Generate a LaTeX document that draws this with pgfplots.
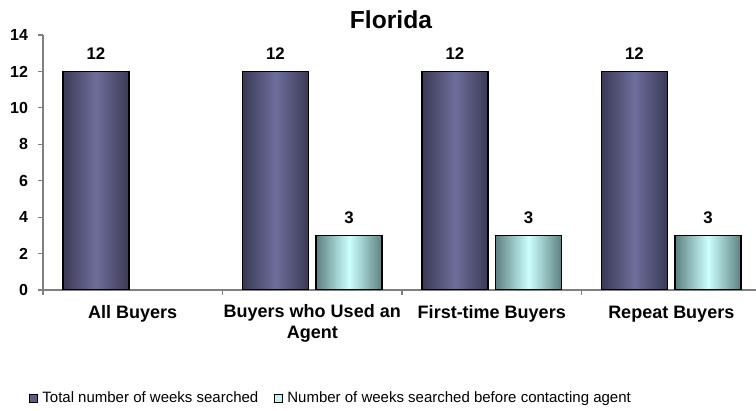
\documentclass[border=0pt]{standalone}
\usepackage{fontspec}
\setmainfont{Liberation Sans}
\usepackage{pgfplots}
\pgfplotsset{compat=1.18}

\definecolor{darkedge}{HTML}{3A3A55}
\definecolor{darkmid}{HTML}{6E6E9C}
\definecolor{cyanedge}{HTML}{5E8080}
\definecolor{cyanmid}{HTML}{CCFFFF}
\definecolor{axisgray}{HTML}{808080}

\pgfplotsset{
  barlabel/.style={nodes near coords, nodes near coords style={font=\fontsize{8.4}{10}\selectfont\bfseries, text=black, yshift=2pt}},
  darkbar/.style={ybar, bar width=33pt, bar shift=-18.4pt, draw=black, line width=0.8pt,
    left color=darkedge, right color=darkedge, middle color=darkmid, barlabel,
    nodes near coords style={xshift=-18.4pt}, forget plot},
  cyanbar/.style={ybar, bar width=33pt, bar shift=18.4pt, draw=black, line width=0.8pt,
    left color=cyanedge, right color=cyanedge, middle color=cyanmid, barlabel,
    nodes near coords style={xshift=18.4pt}, forget plot},
}

\begin{document}
\begin{tikzpicture}
\path[use as bounding box] (-21.5pt,-60.5pt) rectangle (356.5pt,145pt);
\begin{axis}[
    scale only axis,
    width=356.5pt, height=127.5pt,
    xmin=-0.5, xmax=3.472,
    ymin=0, ymax=14,
    ytick={0,2,...,14},
    xtick={0,1,2,3},
    xticklabels={All Buyers,{Buyers who Used an\\Agent},First-time Buyers,Repeat Buyers},
    minor xtick={-0.5,0.5,1.5,2.5,3.5},
    major x tick style={draw=none},
    axis x line=bottom, axis y line=left,
    axis line style={-, draw=axisgray, line width=0.6pt},
    tick style={draw=axisgray, line width=0.6pt},
    tick align=outside,
    major tick length=2.5pt, minor tick length=2.5pt,
    /pgf/number format/assume math mode=true,
    yticklabel style={font=\fontsize{8}{10}\selectfont\bfseries, xshift=-1.5pt},
    xticklabel style={font=\fontsize{9}{10.5}\selectfont\bfseries, align=center,
      execute at begin node={\strut}, yshift=-1pt},
    title={Florida},
    title style={font=\fontsize{12.3}{14}\selectfont\bfseries, at={(0.488,1)}, anchor=center, yshift=1.5pt},
    legend style={at={(0,0)}, anchor=west, xshift=-7pt, yshift=-54.5pt, draw=none, fill=none,
      inner sep=0pt, font=\fontsize{7.5}{9}\selectfont,
      /tikz/every even column/.append style={column sep=6pt}},
    legend columns=2,
    legend image code/.code={\draw[#1, draw=black, line width=0.5pt] (0pt,-2pt) rectangle (4pt,2pt);},
]
\addplot[darkbar] coordinates {(0,12)};
\addplot[darkbar] coordinates {(1,12)};
\addplot[darkbar] coordinates {(2,12)};
\addplot[darkbar] coordinates {(3,12)};
\addplot[cyanbar] coordinates {(1,3)};
\addplot[cyanbar] coordinates {(2,3)};
\addplot[cyanbar] coordinates {(3,3)};
\addlegendimage{fill=darkmid!85!black}
\addlegendentry{Total number of weeks searched}
\addlegendimage{fill=cyanmid!90!gray}
\addlegendentry{Number of weeks searched before contacting agent}
\end{axis}
\end{tikzpicture}
\end{document}
